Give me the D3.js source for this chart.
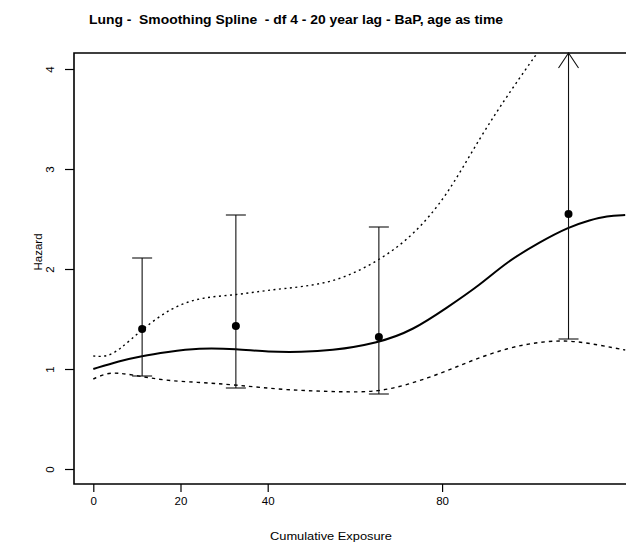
<!DOCTYPE html>
<html>
<head>
<meta charset="utf-8">
<title>Lung - Smoothing Spline</title>
<script src="https://cdn.jsdelivr.net/npm/d3@7"></script>
<style>
  body { margin: 0; background: #ffffff; }
  svg { display: block; font-family: "Liberation Sans", Arial, sans-serif; }
  text { white-space: pre; }
</style>
</head>
<body>
<script>

// category points (cumulative exposure) with hazard ratio and 95% CI
var pointExposure = [11.2, 32.7, 65.5, 109];
var pointHazard = [1.40, 1.43, 1.32, 2.55];
var ciLower = [0.93, 0.81, 0.75, 1.30];
var ciUpper = [2.11, 2.54, 2.42, null];   // null = goes off the top of the plot

// smoothing spline fit
var fitExposure = [0, 6, 11, 17, 24, 33, 40, 48, 54, 65.5, 73.4, 81, 88.7, 94.8, 102.4, 109, 114, 117.7, 122];
var fitHazard = [1.00, 1.08, 1.13, 1.17, 1.21, 1.20, 1.17, 1.17, 1.18, 1.26, 1.39, 1.61, 1.84, 2.07, 2.27, 2.42, 2.49, 2.53, 2.54];

// upper confidence band (leaves the plot at the top)
var upperExposure = [0, 3, 6, 11, 18, 25, 33, 40, 48, 57, 66.5, 73.4, 81, 88.7, 96.3, 102];
var upperHazard = [1.13, 1.12, 1.19, 1.39, 1.62, 1.72, 1.74, 1.79, 1.82, 1.89, 2.11, 2.34, 2.72, 3.32, 3.82, 4.17];

// lower confidence band
var lowerExposure = [0, 3, 6, 9, 13, 18, 23, 33, 44, 57, 65, 72, 80, 87, 95, 102, 109, 116, 122];
var lowerHazard = [0.90, 0.96, 0.96, 0.94, 0.91, 0.88, 0.87, 0.84, 0.79, 0.77, 0.77, 0.84, 0.96, 1.09, 1.21, 1.27, 1.29, 1.24, 1.19];

// tick labels
var xTicks = [0, 20, 40, 80];
var yTicks = [0, 1, 2, 3, 4];

var titleText = "Lung -  Smoothing Spline  - df 4 - 20 year lag - BaP, age as time";
var xLabel = "Cumulative Exposure";
var yLabel = "Hazard";


window.onload = function() {
  main();
};


function main() {
  /*
  Sets up the svg, scales and calls the drawing parts
  */

  var width = 626;
  var height = 558;

  var svg = d3.select("body")
              .append("svg")
              .attr("width", width)
              .attr("height", height);

  // plot region edges
  var box = { left: 74, right: 626, top: 53, bottom: 484 };

  var xScale = d3.scaleLinear()
                 .domain([0, 122])
                 .range([93.3, 625.2]);
  var yScale = d3.scaleLinear()
                 .domain([0, 4])
                 .range([469, 69]);

  axesMaker(svg, box, xScale, yScale);
  curvePlotter(svg, box, xScale, yScale);
  errorBarPlotter(svg, box, xScale, yScale);
};


function axesMaker(svg, box, xScale, yScale) {
  /*
  Draws the box lines, axes, title and labels
  */

  // box (left, top, bottom)
  svg.append("path")
     .attr("d", "M" + box.right + "," + box.top + "H" + box.left +
                "V" + box.bottom + "H" + box.right)
     .attr("fill", "none")
     .attr("stroke", "#000")
     .attr("stroke-width", 1.6);

  // x-axis
  var xAxis = d3.axisBottom(xScale)
                .tickValues(xTicks)
                .tickSize(8)
                .tickPadding(5)
                .tickFormat(d3.format("d"));
  var gx = svg.append("g")
              .attr("transform", "translate(0," + box.bottom + ")")
              .call(xAxis);
  gx.select(".domain").remove();
  gx.selectAll("line").attr("stroke", "#000").attr("stroke-width", 1.2);
  gx.selectAll("text")
    .attr("fill", "#000")
    .style("font-size", "11.5px");

  // y-axis with vertical labels
  var yAxis = d3.axisLeft(yScale)
                .tickValues(yTicks)
                .tickSize(9)
                .tickFormat(d3.format("d"));
  var gy = svg.append("g")
              .attr("transform", "translate(" + box.left + ",0)")
              .call(yAxis);
  gy.select(".domain").remove();
  gy.selectAll("line").attr("stroke", "#000").attr("stroke-width", 1.2);
  gy.selectAll("text")
    .attr("x", 0)
    .attr("dy", 0)
    .attr("transform", "translate(-20,0) rotate(-90)")
    .attr("fill", "#000")
    .style("text-anchor", "middle")
    .style("font-size", "11.5px");

  // title
  svg.append("text")
     .attr("x", 296)
     .attr("y", 24)
     .attr("text-anchor", "middle")
     .attr("textLength", 414)
     .attr("lengthAdjust", "spacingAndGlyphs")
     .attr("fill", "#000")
     .style("font-weight", "bold")
     .style("font-size", "12.5px")
     .text(titleText);

  // x label
  svg.append("text")
     .attr("x", 331)
     .attr("y", 540)
     .attr("text-anchor", "middle")
     .attr("textLength", 122)
     .attr("lengthAdjust", "spacingAndGlyphs")
     .attr("fill", "#000")
     .style("font-size", "11.5px")
     .text(xLabel);

  // y label
  svg.append("text")
     .attr("transform", "translate(41.5,252) rotate(-90)")
     .attr("text-anchor", "middle")
     .attr("fill", "#000")
     .style("font-size", "11.5px")
     .text(yLabel);
};


function curvePlotter(svg, box, xScale, yScale) {
  /*
  Draws the spline fit and its confidence band
  */

  svg.append("clipPath")
     .attr("id", "plotClip")
     .append("rect")
     .attr("x", box.left)
     .attr("y", box.top)
     .attr("width", box.right - box.left)
     .attr("height", box.bottom - box.top);

  // basis curve smooths out small reading errors
  var line = d3.line()
               .x(function(d) { return xScale(d[0]); })
               .y(function(d) { return yScale(d[1]); })
               .curve(d3.curveBasis);

  var g = svg.append("g").attr("clip-path", "url(#plotClip)");

  // upper band, dotted
  g.append("path")
   .attr("d", line(d3.zip(upperExposure, upperHazard)))
   .attr("fill", "none")
   .attr("stroke", "#000")
   .attr("stroke-width", 1.4)
   .attr("stroke-dasharray", "2,3.5");

  // lower band, dashed
  g.append("path")
   .attr("d", line(d3.zip(lowerExposure, lowerHazard)))
   .attr("fill", "none")
   .attr("stroke", "#000")
   .attr("stroke-width", 1.4)
   .attr("stroke-dasharray", "3.5,4");

  // fitted curve
  g.append("path")
   .attr("d", line(d3.zip(fitExposure, fitHazard)))
   .attr("fill", "none")
   .attr("stroke", "#000")
   .attr("stroke-width", 2);
};


function errorBarPlotter(svg, box, xScale, yScale) {
  /*
  Draws the category estimates with their confidence intervals
  */

  var capHalf = 10;
  var data = pointExposure.map(function(x, i) {
    return { x: x, y: pointHazard[i], lo: ciLower[i], hi: ciUpper[i] };
  });

  var g = svg.append("g")
             .attr("stroke", "#111")
             .attr("stroke-width", 1.1)
             .attr("fill", "none");

  data.forEach(function(d) {
    var cx = xScale(d.x);
    var yLo = yScale(d.lo);
    var yHi = d.hi === null ? box.top : yScale(d.hi);

    // stem
    g.append("line")
     .attr("x1", cx).attr("x2", cx)
     .attr("y1", yLo).attr("y2", yHi);

    // lower cap
    g.append("line")
     .attr("x1", cx - capHalf).attr("x2", cx + capHalf)
     .attr("y1", yLo).attr("y2", yLo);

    if (d.hi === null) {
      // open arrow for an interval that leaves the plot
      g.append("path")
       .attr("d", "M" + (cx - capHalf) + "," + (yHi + 15) +
                  "L" + cx + "," + yHi +
                  "L" + (cx + capHalf) + "," + (yHi + 15));
    } else {
      g.append("line")
       .attr("x1", cx - capHalf).attr("x2", cx + capHalf)
       .attr("y1", yHi).attr("y2", yHi);
    };
  });

  svg.append("g")
     .selectAll("circle")
     .data(data)
     .join("circle")
     .attr("cx", function(d) { return xScale(d.x); })
     .attr("cy", function(d) { return yScale(d.y); })
     .attr("r", 4)
     .attr("fill", "#000");
};

</script>
</body>
</html>
